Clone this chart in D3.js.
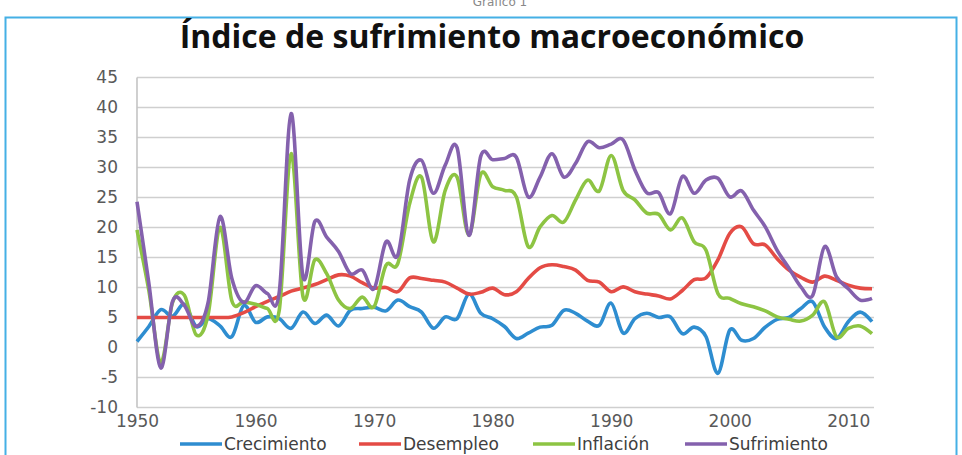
<!DOCTYPE html>
<html>
<head>
<meta charset="utf-8">
<script src="https://cdn.jsdelivr.net/npm/d3@7"></script>
<style>
  body { margin: 0; background: #fff; }
  text { font-family: "DejaVu Sans", sans-serif; }
</style>
</head>
<body>
<svg id="chart"></svg>
<script>
const width = 962;
const height = 455;

// años 1950-2012 (eje de categorías)
const years = d3.range(1950, 2013);
const xTickLabels = [1950, 1960, 1970, 1980, 1990, 2000, 2010];
const yTickLabels = [-10, -5, 0, 5, 10, 15, 20, 25, 30, 35, 40, 45];

const crecimiento = [
  1.0, 3.5, 6.3, 5.2, 7.2, 3.5, 4.8, 3.6, 1.8, 7.0,
  4.2, 5.1, 4.8, 3.2, 5.9, 4.0, 5.4, 3.6, 6.2, 6.5,
  6.7, 6.1, 7.9, 6.8, 5.9, 3.2, 5.1, 4.8, 8.9, 5.7,
  4.8, 3.5, 1.5, 2.4, 3.4, 3.7, 6.2, 5.7, 4.4, 3.7,
  7.4, 2.4, 4.8, 5.7, 5.0, 5.1, 2.3, 3.4, 1.8, -4.3,
  2.9, 1.2, 1.5, 3.4, 4.7, 5.0, 6.5, 7.6, 3.4, 1.5,
  4.3, 5.9, 4.3
];
const desempleo = [
  5.0, 5.0, 5.0, 5.0, 5.0, 5.0, 5.0, 5.0, 5.1, 5.8,
  6.8, 7.7, 8.5, 9.4, 9.9, 10.5, 11.3, 12.1, 11.9, 10.8,
  9.9, 10.0, 9.3, 11.6, 11.5, 11.2, 10.9, 9.9, 8.9, 9.2,
  9.9, 8.8, 9.3, 11.5, 13.3, 13.8, 13.5, 12.9, 11.2, 10.9,
  9.3, 10.1, 9.3, 8.9, 8.6, 8.1, 9.5, 11.3, 11.6, 14.6,
  19.0, 20.1, 17.3, 17.1, 14.8, 12.9, 11.7, 10.9, 11.9, 11.2,
  10.4, 9.9, 9.8
];
const inflacion = [
  19.6, 9.5, -2.5, 7.5, 8.7, 2.1, 5.5, 20.0, 7.8, 7.6,
  7.2, 6.5, 6.2, 32.3, 8.5, 14.6, 12.3, 7.9, 6.5, 8.4,
  6.8, 13.7, 14.0, 24.0, 28.4, 17.6, 26.2, 28.4, 18.7, 28.9,
  26.8, 26.2, 25.1, 16.8, 20.1, 22.0, 20.9, 24.6, 27.9, 26.1,
  32.0, 26.2, 24.6, 22.4, 22.2, 19.6, 21.6, 17.6, 16.2, 9.0,
  8.2, 7.3, 6.8, 6.1, 5.1, 4.7, 4.4, 5.4, 7.6, 1.8,
  3.2, 3.6, 2.3
];
const sufrimiento = [
  24.3, 10.7, -3.4, 7.7, 7.0, 3.5, 7.5, 21.8, 11.5, 7.5,
  10.3, 9.0, 9.2, 39.0, 11.8, 21.0, 18.4, 16.0, 12.3, 12.9,
  9.8, 17.6, 15.4, 27.9, 31.2, 25.7, 30.4, 33.3, 18.7, 31.9,
  31.3, 31.5, 31.7, 25.1, 28.4, 32.3, 28.4, 30.7, 34.3, 33.3,
  33.9, 34.6, 29.6, 25.8, 25.8, 22.3, 28.5, 25.7, 27.9, 28.2,
  25.1, 26.1, 22.9, 20.1, 16.2, 13.2, 10.1, 8.7, 16.8, 11.8,
  9.8, 7.9, 8.2
];

const seriesNames = ["Crecimiento", "Desempleo", "Inflación", "Sufrimiento"];
const seriesColors = ["#2e8dd0", "#e44b45", "#8dc443", "#8461ad"];
const seriesValues = [crecimiento, desempleo, inflacion, sufrimiento];

const svg = d3.select("#chart").attr("width", width).attr("height", height);

// marco azul
svg.append("rect")
    .attr("x", 5.5).attr("y", 17.5)
    .attr("width", 951).attr("height", 470)
    .attr("fill", "none")
    .attr("stroke", "#45b0e5")
    .attr("stroke-width", 2);

// texto cortado arriba (del documento original)
svg.append("text")
    .attr("x", 500).attr("y", 6)
    .attr("text-anchor", "middle")
    .attr("fill", "#888")
    .style("font-size", "12px")
    .text("Gráfico 1");

svg.append("text")
    .attr("x", 492).attr("y", 48)
    .attr("text-anchor", "middle")
    .attr("fill", "#111")
    .style("font-family", "'Open Sans', sans-serif")
    .style("font-size", "32px")
    .style("font-weight", "700")
    .text("Índice de sufrimiento macroeconómico");

const x = d3.scalePoint()
    .domain(years)
    .range([137, 872]);

const y = d3.scaleLinear()
    .domain([-10, 45])
    .range([407.5, 77.5]);

// líneas de cuadrícula
svg.append("g")
    .selectAll("line")
    .data(yTickLabels)
    .enter().append("line")
    .attr("x1", 137).attr("x2", 874)
    .attr("y1", d => y(d)).attr("y2", d => y(d))
    .attr("stroke", "#cfcfcf")
    .attr("stroke-width", 1.6);

svg.append("line")
    .attr("x1", 137).attr("x2", 137)
    .attr("y1", y(45)).attr("y2", y(-10))
    .attr("stroke", "#c4c4c4")
    .attr("stroke-width", 1.6);

const yAxis = svg.append("g")
    .attr("transform", "translate(137,0)")
    .call(d3.axisLeft(y).tickValues(yTickLabels).tickSize(0).tickPadding(19)
        .tickFormat(d => String(d)));
yAxis.select(".domain").remove();
yAxis.selectAll("text")
    .attr("fill", "#595959")
    .style("font-size", "17px")
    .style("font-family", "'DejaVu Sans', sans-serif");

const xAxis = svg.append("g")
    .attr("transform", `translate(0,${y(-10)})`)
    .call(d3.axisBottom(x).tickValues(xTickLabels).tickSize(0).tickPadding(7));
xAxis.select(".domain").remove();
xAxis.selectAll("text")
    .attr("fill", "#595959")
    .style("font-size", "17px")
    .style("font-family", "'DejaVu Sans', sans-serif");

const line = d3.line()
    .x((d, i) => x(years[i]))
    .y(d => y(d))
    .curve(d3.curveCatmullRom.alpha(0));

svg.append("g")
    .selectAll("path")
    .data(seriesValues)
    .enter().append("path")
    .attr("d", line)
    .attr("fill", "none")
    .attr("stroke", (d, i) => seriesColors[i])
    .attr("stroke-width", 3.6)
    .attr("stroke-linejoin", "round");

// leyenda
const legendX = [180, 359, 533, 685];
const legend = svg.append("g")
    .selectAll("g")
    .data(seriesNames)
    .enter().append("g")
    .attr("transform", (d, i) => `translate(${legendX[i]},444)`);

legend.append("line")
    .attr("x1", 0).attr("x2", 42)
    .attr("stroke", (d, i) => seriesColors[i])
    .attr("stroke-width", 3.6);

legend.append("text")
    .attr("x", 44)
    .attr("dy", "0.35em")
    .attr("fill", "#404040")
    .style("font-size", "17px")
    .text(d => d);
</script>
</body>
</html>
